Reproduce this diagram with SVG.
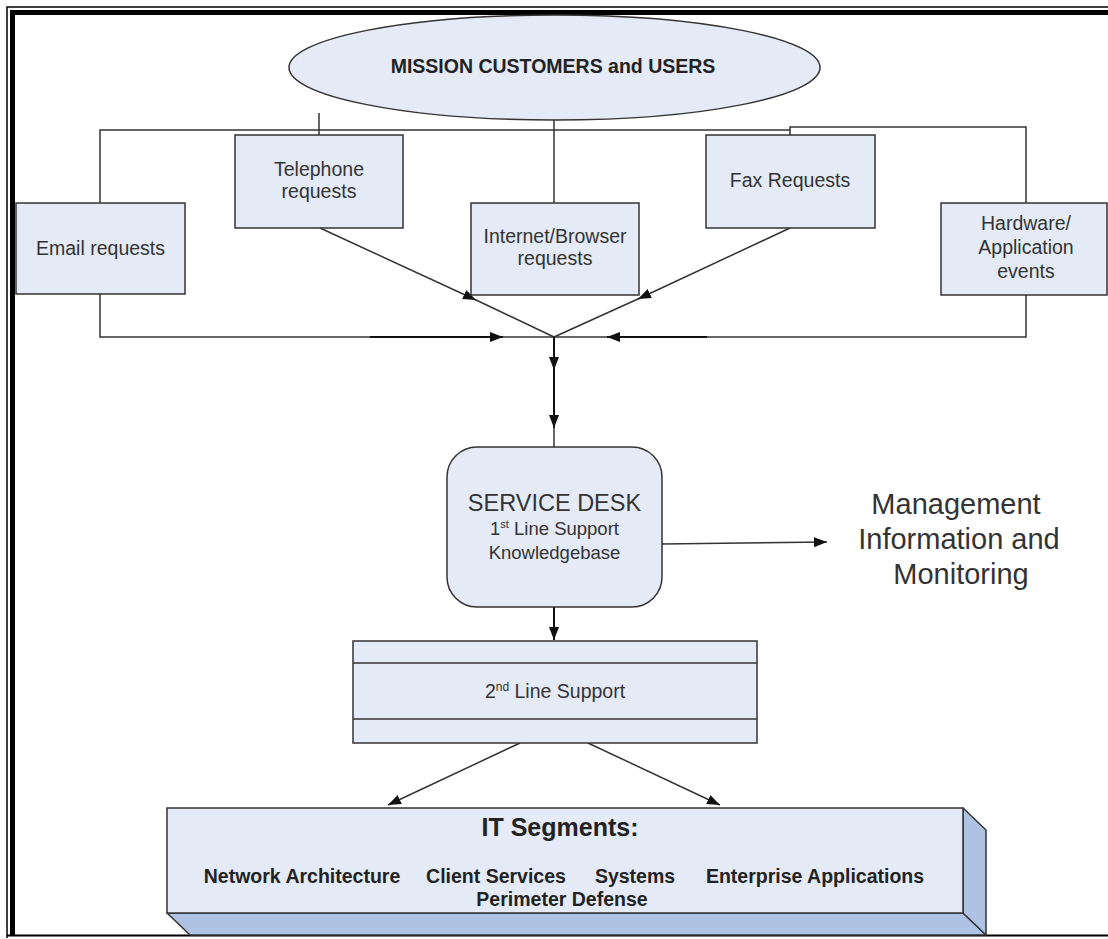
<svg xmlns="http://www.w3.org/2000/svg" width="1108" height="939" viewBox="0 0 1108 939">
  <style>
    .box { fill: #e4eaf6; stroke: #333; stroke-width: 1.5; }
    .face { fill: #aec3e3; stroke: #333; stroke-width: 1.5; stroke-linejoin: round; }
    .ln { fill: none; stroke: #333; stroke-width: 1.5; }
    .lnb { fill: none; stroke: #111; stroke-width: 2; }
    .lbl { font-family: "Liberation Sans", Arial, sans-serif; fill: #333; text-anchor: middle; }
    .bold { font-family: "Liberation Sans", Arial, sans-serif; font-weight: bold; fill: #222; text-anchor: middle; }
    .frame { fill: none; stroke: #000; }
  </style>
  <defs>
    <marker id="arrow" markerUnits="userSpaceOnUse" markerWidth="14" markerHeight="12" refX="13" refY="6" orient="auto">
      <path d="M0,1 L13,6 L0,11 Z" fill="#111"/>
    </marker>
  </defs>

  <rect width="1108" height="939" fill="#fff"/>

  <!-- page frame: thin outer rule, heavy inner rule, bottom rule -->
  <g id="frame">
    <path class="frame" d="M7 938 V7 H1108" stroke-width="1.5"/>
    <path class="frame" d="M12.5 935 V12.5 H1108" stroke-width="5"/>
    <line class="frame" x1="7" y1="935.5" x2="1108" y2="935.5" stroke-width="2"/>
  </g>

  <!-- connectors -->
  <g id="connectors">
    <!-- distribution bus from the customers ellipse -->
    <path class="ln" d="M100 203 V130 H790"/>
    <path class="ln" d="M790 135 V127 H1026 V203"/>
    <line class="ln" x1="319" y1="113" x2="319" y2="135"/>
    <line class="ln" x1="554" y1="120" x2="554" y2="203"/>

    <!-- telephone and fax into the junction -->
    <line class="ln" x1="320" y1="228" x2="476" y2="300" marker-end="url(#arrow)"/>
    <line class="ln" x1="475" y1="299.5" x2="554" y2="337"/>
    <line class="ln" x1="790" y1="228" x2="638" y2="299" marker-end="url(#arrow)"/>
    <line class="ln" x1="639" y1="298.5" x2="554" y2="337"/>

    <!-- email and hardware events into the junction -->
    <path class="ln" d="M100 294 V337 H554"/>
    <line class="lnb" x1="370" y1="337" x2="503" y2="337" marker-end="url(#arrow)"/>
    <path class="ln" d="M1026 295 V337 H554"/>
    <line class="lnb" x1="707" y1="337" x2="607" y2="337" marker-end="url(#arrow)"/>

    <!-- junction down to the service desk -->
    <line class="lnb" x1="554" y1="337" x2="554" y2="370" marker-end="url(#arrow)"/>
    <line class="lnb" x1="554" y1="369" x2="554" y2="428" marker-end="url(#arrow)"/>
    <line class="ln" x1="554" y1="427" x2="554" y2="447"/>

    <!-- service desk outputs -->
    <line class="ln" x1="662" y1="544" x2="827" y2="542" marker-end="url(#arrow)"/>
    <line class="lnb" x1="554" y1="607" x2="554" y2="640" marker-end="url(#arrow)"/>

    <!-- second line to IT segments -->
    <line class="ln" x1="520" y1="743" x2="388" y2="805" marker-end="url(#arrow)"/>
    <line class="ln" x1="588" y1="743" x2="720" y2="805" marker-end="url(#arrow)"/>
  </g>

  <g id="customers">
    <ellipse class="box" cx="554.5" cy="67.5" rx="265.5" ry="52.5"/>
    <text class="bold" x="553" y="73" font-size="19.5">MISSION CUSTOMERS and USERS</text>
  </g>

  <g id="email">
    <rect class="box" x="16" y="203" width="169" height="91"/>
    <text class="lbl" x="100.5" y="255" font-size="19.5">Email requests</text>
  </g>

  <g id="telephone">
    <rect class="box" x="235" y="135" width="168" height="93"/>
    <text class="lbl" x="319" y="176" font-size="19.5">Telephone</text>
    <text class="lbl" x="319" y="198" font-size="19.5">requests</text>
  </g>

  <g id="internet">
    <rect class="box" x="471" y="203" width="168" height="92"/>
    <text class="lbl" x="555" y="243" font-size="19.5">Internet/Browser</text>
    <text class="lbl" x="555" y="265" font-size="19.5">requests</text>
  </g>

  <g id="fax">
    <rect class="box" x="706" y="135" width="169" height="93"/>
    <text class="lbl" x="790" y="187" font-size="19.5">Fax Requests</text>
  </g>

  <g id="hardware">
    <rect class="box" x="941" y="203" width="166" height="92"/>
    <text class="lbl" x="1026" y="230" font-size="19.5">Hardware/</text>
    <text class="lbl" x="1026" y="254" font-size="19.5">Application</text>
    <text class="lbl" x="1026" y="278" font-size="19.5">events</text>
  </g>

  <g id="service-desk">
    <rect class="box" x="447" y="447" width="215" height="160" rx="30" ry="30"/>
    <text class="lbl" x="554.5" y="511" font-size="23.5">SERVICE DESK</text>
    <text class="lbl" x="554.5" y="535" font-size="18.5">1<tspan font-size="11" dy="-7">st</tspan><tspan dy="7"> Line Support</tspan></text>
    <text class="lbl" x="554.5" y="559" font-size="18.5">Knowledgebase</text>
  </g>

  <g id="management">
    <text class="lbl" x="956" y="514" font-size="29" fill="#222">Management</text>
    <text class="lbl" x="959" y="549" font-size="29" fill="#222">Information and</text>
    <text class="lbl" x="961" y="584" font-size="29" fill="#222">Monitoring</text>
  </g>

  <g id="second-line">
    <rect class="box" x="353" y="641" width="404" height="102"/>
    <line class="ln" x1="353" y1="663" x2="757" y2="663"/>
    <line class="ln" x1="353" y1="719" x2="757" y2="719"/>
    <text class="lbl" x="555" y="698" font-size="19.5">2<tspan font-size="12" dy="-7">nd</tspan><tspan dy="7"> Line Support</tspan></text>
  </g>

  <g id="it-segments">
    <polygon class="face" points="167,913 963,913 986,935 190,935"/>
    <polygon class="face" points="963,808 986,830 986,935 963,913"/>
    <rect class="box" x="167" y="808" width="796" height="105"/>
    <text class="bold" x="560" y="836" font-size="25">IT Segments:</text>
    <text class="bold" font-size="19.5" y="883"><tspan x="302">Network Architecture</tspan><tspan x="496">Client Services</tspan><tspan x="635">Systems</tspan><tspan x="815">Enterprise Applications</tspan></text>
    <text class="bold" x="562" y="906" font-size="19.5">Perimeter Defense</text>
  </g>
</svg>
